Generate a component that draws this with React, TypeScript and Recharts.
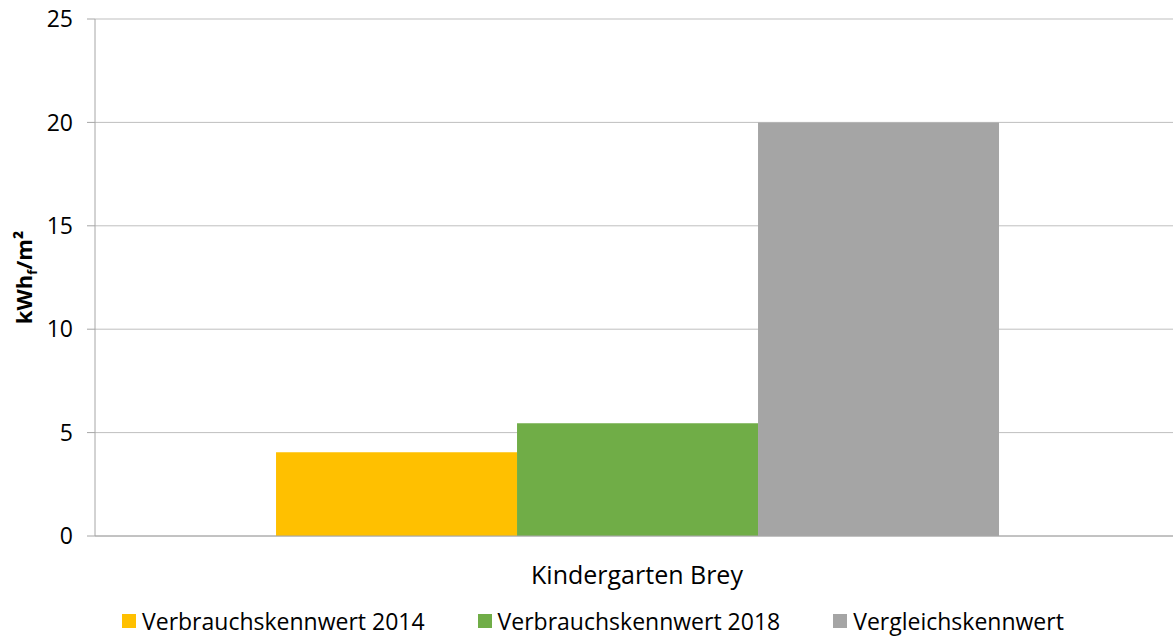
import { BarChart, Bar, XAxis, YAxis, CartesianGrid, Legend } from "recharts";

const categories = ["Kindergarten Brey"];
const verbrauch2014 = [4.05];
const verbrauch2018 = [5.45];
const vergleich = [20];
const yTicks = [0, 5, 10, 15, 20, 25];

const series = [
  { key: "v2014", name: "Verbrauchskennwert 2014", color: "#FFC000" },
  { key: "v2018", name: "Verbrauchskennwert 2018", color: "#70AD47" },
  { key: "vgl", name: "Vergleichskennwert", color: "#A5A5A5" },
];

const data = categories.map((name, i) => ({
  name,
  v2014: verbrauch2014[i],
  v2018: verbrauch2018[i],
  vgl: vergleich[i],
}));

const FONT = "'Open Sans', sans-serif";

// rotated axis title with subscript f
const YLabel = (props: any) => {
  const vb = props.viewBox || {};
  const cy = (vb.y ?? 0) + (vb.height ?? 0) / 2;
  return (
    <text
      transform={`translate(32, ${cy}) rotate(-90)`}
      textAnchor="middle"
      fontFamily={FONT}
      fontWeight="bold"
      fontSize={22}
      fill="#000"
    >
      kWh
      <tspan fontSize={13} dy={5}>f</tspan>
      <tspan dy={-5}>/m²</tspan>
    </text>
  );
};

const LegendContent = () => (
  <div
    style={{
      display: "flex",
      justifyContent: "flex-start",
      paddingLeft: 122,
      gap: 53,
      fontFamily: FONT,
      fontSize: 23,
      color: "#000",
      height: 36,
      alignItems: "center",
      whiteSpace: "nowrap",
    }}
  >
    {series.map((s) => (
      <div key={s.key} style={{ display: "flex", alignItems: "center" }}>
        <span
          style={{
            display: "inline-block",
            width: 14,
            height: 14,
            background: s.color,
            marginRight: 6,
          }}
        />
        {s.name}
      </div>
    ))}
  </div>
);

export default function App() {
  return (
    <div style={{ position: "absolute", left: 0, top: 0, background: "#fff", overflow: "hidden", width: 1173, height: 639 }}>
      <BarChart
        width={1173}
        height={639}
        data={data}
        margin={{ top: 19, right: -6, left: 0, bottom: 0 }}
        barCategoryGap="16.7%"
        barGap={0}
      >
        <CartesianGrid vertical={false} stroke="#BFBFBF" strokeWidth={1} />
        <XAxis
          dataKey="name"
          height={67}
          tickLine={false}
          axisLine={{ stroke: "#A6A6A6" }}
          tickSize={6}
          tickMargin={24}
          tick={{ fontFamily: FONT, fontSize: 25, fill: "#000" }}
        />
        <YAxis
          width={95}
          domain={[0, 25]}
          ticks={yTicks}
          interval={0}
          tickSize={8}
          tickMargin={14}
          tickLine={{ stroke: "#A6A6A6" }}
          axisLine={{ stroke: "#A6A6A6" }}
          tick={{ fontFamily: FONT, fontSize: 23, fill: "#000" }}
          label={<YLabel />}
        />
        <Legend verticalAlign="bottom" content={<LegendContent />} />
        {series.map((s) => (
          <Bar
            key={s.key}
            dataKey={s.key}
            name={s.name}
            fill={s.color}
            isAnimationActive={false}
          />
        ))}
      </BarChart>
    </div>
  );
}
